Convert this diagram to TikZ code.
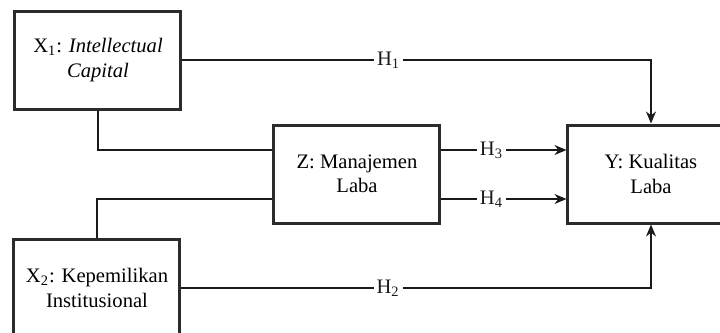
\documentclass[tikz,border=0pt]{standalone}
\usepackage{fontspec}
\setmainfont{Liberation Serif}
\usepackage{tikz}
\usetikzlibrary{arrows.meta,calc,positioning}
\definecolor{boxgray}{HTML}{2B2B2B}
\definecolor{linegray}{HTML}{1A1A1A}
\tikzset{
  varbox/.style={draw=boxgray, line width=1.5pt, fill=white, align=center, minimum width=83pt, minimum height=49pt, inner sep=2pt, font=\fontsize{10.3}{12.2}\selectfont},
  link/.style={linegray, line width=0.65pt},
  arrowlink/.style={link, -{Stealth[length=6pt,width=5pt]}},
  hlabel/.style={fill=white, inner sep=1.5pt, font=\fontsize{10.3}{12}\selectfont}
}
\begin{document}
\begin{tikzpicture}[x=0.5pt,y=-0.5pt]
  \useasboundingbox (0,0) rectangle (720,333);
  \clip (0,0) rectangle (720,333);
  \node[varbox] (x1) at (98,60) {X\textsubscript{1}: \textit{Intellectual}\\\textit{Capital}};
  \node[varbox] (x2) at (97,288) {X\textsubscript{2}: Kepemilikan\\Institusional};
  \node[varbox] (z) at (357,174) {Z: Manajemen\\Laba};
  \node[varbox] (y) at (651,174) {Y: Kualitas\\Laba};
  \draw[arrowlink] (x1.east) -| node[hlabel,pos=0.22] {H\textsubscript{1}} (y.north);
  \draw[arrowlink] (x2.east) -| node[hlabel,pos=0.22] {H\textsubscript{2}} (y.south);
  \draw[link] (x1.south) |- ([yshift=12pt]z.west);
  \draw[link] (x2.north) |- ([yshift=-12.5pt]z.west);
  \draw[arrowlink] ([yshift=12pt]z.east) -- node[hlabel,pos=0.4] {H\textsubscript{3}} ([yshift=12pt]y.west);
  \draw[arrowlink] ([yshift=-12.5pt]z.east) -- node[hlabel,pos=0.4] {H\textsubscript{4}} ([yshift=-12.5pt]y.west);
\end{tikzpicture}
\end{document}
